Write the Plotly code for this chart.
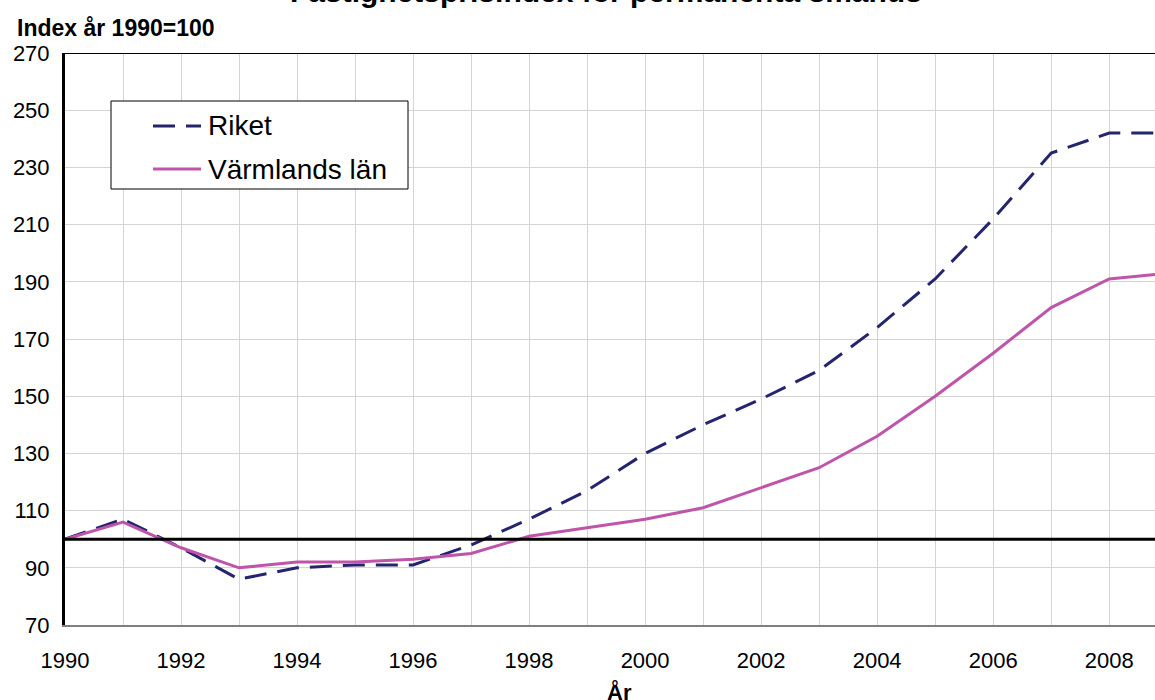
import plotly.graph_objects as go

years = list(range(1990, 2010))
riket = [100, 107, 97, 86, 90, 91, 91, 98, 107, 117, 130, 140, 149, 159, 174, 191, 212, 235, 242, 242]
varmland = [100, 106, 97, 90, 92, 92, 93, 95, 101, 104, 107, 111, 118, 125, 136, 150, 165, 181, 191, 193]
y_ticks = list(range(70, 271, 20))
x_ticks = list(range(1990, 2009, 2))
series_names = ["Riket", "Värmlands län"]
series_colors = ["#25256f", "#bf55aa"]
series_dash = ["22px,11px", "solid"]

FONT = "Arial, Liberation Sans, sans-serif"
W, H = 1155, 700
ML, MR, MT, MB = 65, 0, 53, 75
PW, PH = W - ML - MR, H - MT - MB


def px_x(px):
    return (px - ML) / PW


def px_y(py):
    return (H - MB - py) / PH


fig = go.Figure()
for name, vals, col, dash in zip(series_names, [riket, varmland], series_colors, series_dash):
    fig.add_trace(go.Scatter(x=years, y=vals, name=name, mode="lines",
                             line=dict(color=col, width=3, dash=dash)))

fig.add_shape(type="line", xref="paper", yref="y", x0=0, x1=1, y0=100, y1=100,
              line=dict(color="black", width=3), layer="above")
fig.add_shape(type="line", xref="paper", yref="y", x0=0, x1=1, y0=270, y1=270,
              line=dict(color="black", width=2), layer="above")

# legend box (drawn manually)
fig.add_shape(type="rect", xref="paper", yref="paper",
              x0=px_x(111), x1=px_x(408), y0=px_y(189), y1=px_y(101),
              line=dict(color="black", width=1), fillcolor="white", layer="above")
for i, (name, col, dash) in enumerate(zip(series_names, series_colors, series_dash)):
    yc = 126 + 43 * i
    fig.add_shape(type="line", xref="paper", yref="paper",
                  x0=px_x(153), x1=px_x(201), y0=px_y(yc), y1=px_y(yc),
                  line=dict(color=col, width=3, dash=dash), layer="above")
    fig.add_annotation(text=name, xref="paper", yref="paper", x=px_x(206), y=px_y(yc),
                       xanchor="left", yanchor="middle", showarrow=False,
                       font=dict(size=28, family=FONT, color="black"))

fig.update_layout(
    width=W, height=H,
    margin=dict(l=ML, r=MR, t=MT, b=MB),
    paper_bgcolor="white", plot_bgcolor="white",
    font=dict(family=FONT, color="black", size=22),
    showlegend=False,
    xaxis=dict(range=[1990, 2008.79], tickvals=x_ticks, showgrid=True,
               gridcolor="#d4d4d4", gridwidth=1,
               minor=dict(dtick=1, tick0=1990, showgrid=True, gridcolor="#d4d4d4", gridwidth=1),
               showline=True, linecolor="#808080", linewidth=2,
               ticks="", ticklabelstandoff=15, tickfont=dict(size=22),
               zeroline=False, automargin=False),
    yaxis=dict(range=[70, 270], tickvals=y_ticks, showgrid=True,
               gridcolor="#d4d4d4", gridwidth=1,
               showline=True, linecolor="black", linewidth=3,
               ticks="", ticklabelstandoff=8, tickfont=dict(size=22),
               zeroline=False, automargin=False),
)

fig.add_annotation(text="<b>Fastighetsprisindex för permanenta småhus</b>",
                   xref="paper", yref="paper", x=px_x(606), y=1.0, yshift=62,
                   xanchor="center", yanchor="middle", showarrow=False,
                   font=dict(size=30, family=FONT))
fig.add_annotation(text="<b>Index år 1990=100</b>", xref="paper", yref="paper",
                   x=px_x(15), y=1.0, yshift=25, xanchor="left", yanchor="middle",
                   showarrow=False, font=dict(size=23, family=FONT))
fig.add_annotation(text="<b>År</b>", xref="paper", yref="paper", x=px_x(620), y=0,
                   yshift=-67, xanchor="center", yanchor="middle", showarrow=False,
                   font=dict(size=22, family=FONT))

fig.write_html("out.html", config={"displayModeBar": False},
               post_script="document.body.style.margin='0';")
